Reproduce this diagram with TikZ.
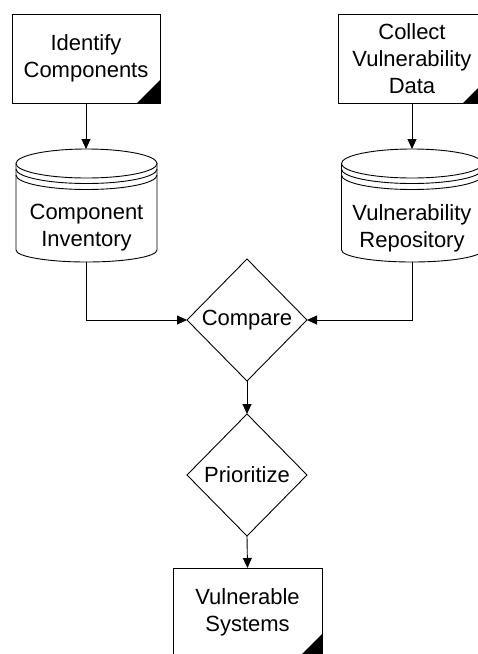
\documentclass[tikz,border=0pt]{standalone}
\usepackage{fontspec}
\setmainfont{Liberation Sans}
\usetikzlibrary{arrows.meta,shapes.geometric,calc}
\tikzset{
  base/.style={font=\fontsize{22}{27}\selectfont, align=center, line width=0.9pt, outer sep=0pt},
  docbox/.style={base, draw, rectangle, minimum width=148pt, minimum height=89pt, inner sep=0pt},
  dbnode/.style={base, rectangle, minimum width=141pt, minimum height=113pt, inner sep=0pt},
  dbtext/.style={base, inner sep=0pt},
  decision/.style={base, draw, diamond, aspect=1, minimum width=120pt, minimum height=122pt, inner sep=0pt},
  arr/.style={line width=0.9pt, -{Triangle[length=10pt,width=9pt]}},
  cornerfill/.style={fill=black}
}
\newcommand{\docCorner}[1]{%
  \fill[cornerfill] ([xshift=-23pt]#1.south east) -- (#1.south east) -- ([yshift=23pt]#1.south east) -- cycle;}
\newcommand{\dbShape}[1]{%
  \begin{scope}[shift={(#1.north west)}, line width=0.9pt]
    \draw (70.5,14.5) ellipse [x radius=70.5pt, y radius=14.5pt];
    \draw (0,20) arc [start angle=180, end angle=360, x radius=70.5pt, y radius=14.5pt];
    \draw (0,26) arc [start angle=180, end angle=360, x radius=70.5pt, y radius=14.5pt];
    \draw (0,14.5) -- (0,101) arc [start angle=180, end angle=360, x radius=70.5pt, y radius=12pt] -- (141,14.5);
  \end{scope}}
\begin{document}
\begin{tikzpicture}[x=1pt,y=-1pt]
  \clip (0,0) rectangle (478,654);
  \fill[white] (0,0) rectangle (478,654);
  % document boxes
  \node[docbox] (b1) at (86,58.5) {Identify\\Components};
  \node[docbox] (b2) at (412,58.5) {Collect\\Vulnerability\\Data};
  \node[docbox, minimum width=149pt] (vs) at (247.5,612.5) {Vulnerable\\Systems};
  \docCorner{b1}
  \docCorner{b2}
  \docCorner{vs}
  % databases
  \node[dbnode] (c1) at (86.5,205.5) {};
  \node[dbnode] (c2) at (412,205.5) {};
  \dbShape{c1}
  \dbShape{c2}
  \node[dbtext] (c1t) at (86.5,228) {Component\\Inventory};
  \node[dbtext] (c2t) at (412,228) {Vulnerability\\Repository};
  % decisions
  \node[decision] (cmp) at (247,320) {Compare};
  \node[decision] (pri) at (247,475) {Prioritize};
  % connectors
  \draw[arr] (b1.south) -- (b1.south |- c1.north);
  \draw[arr] (b2.south) -- (b2.south |- c2.north);
  \draw[arr] (c1.south) |- (cmp.west);
  \draw[arr] (c2.south) |- (cmp.east);
  \draw[arr] (cmp.south) -- (pri.north);
  \draw[arr] (pri.south) -- (vs.north);
\end{tikzpicture}
\end{document}
